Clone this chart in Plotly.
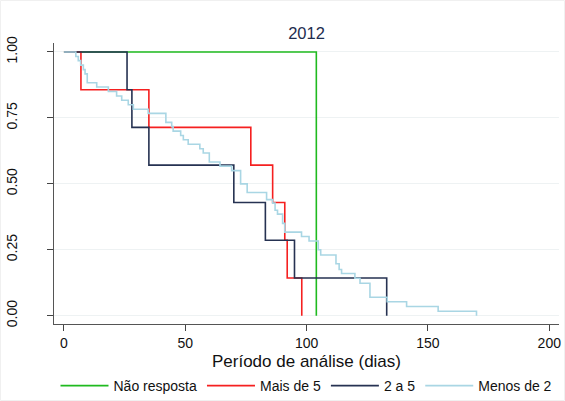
import plotly.graph_objects as go

# Kaplan-Meier step data (time in days, survival after each drop)
nao_t = [0, 104]
nao_s = [1.0, 0.0]

mais5_t = [0, 7, 35, 77, 86, 91, 92, 98]
mais5_s = [1.0, 0.857, 0.714, 0.571, 0.429, 0.286, 0.143, 0.0]

dois5_t = [0, 26, 28, 35, 70, 83, 95, 133]
dois5_s = [1.0, 0.857, 0.714, 0.571, 0.429, 0.286, 0.143, 0.0]

menos2_t = [0, 4.9, 5.9, 6.9, 8.0, 8.7, 9.6, 13.5, 18.3, 21.7, 23.8, 26.5, 28.6,
            34.7, 42.0, 44.4, 45.0, 48.1, 49.2, 51.2, 56.0, 57.4, 59.9, 64.3, 69.1,
            72.8, 75.5, 83.5, 86.0, 87.0, 88.0, 90.1, 91.0, 97.9, 101.0, 104.8, 105.8,
            112.1, 113.4, 114.4, 119.9, 122.0, 126.1, 133.2, 141.2, 154.2, 170.0]
menos2_s = [1.0, 0.983, 0.967, 0.950, 0.933, 0.917, 0.883, 0.867, 0.850, 0.833, 0.817, 0.800, 0.783,
            0.767, 0.733, 0.717, 0.700, 0.683, 0.667, 0.650, 0.633, 0.617, 0.583, 0.567, 0.550,
            0.500, 0.467, 0.440, 0.427, 0.400, 0.385, 0.350, 0.317, 0.300, 0.283, 0.250, 0.230,
            0.197, 0.175, 0.160, 0.142, 0.123, 0.070, 0.053, 0.035, 0.017, 0.0]

series = [
    ("Não resposta", nao_t, nao_s, "#1fba1f"),
    ("Mais de 5", mais5_t, mais5_s, "#f52020"),
    ("2 a 5", dois5_t, dois5_s, "#263252"),
    ("Menos de 2", menos2_t, menos2_s, "#a9d6e4"),
]

x_ticks = [0, 50, 100, 150, 200]
y_ticks = [0, 0.25, 0.5, 0.75, 1.0]

fig = go.Figure()
for name, t, s, c in series:
    fig.add_trace(go.Scatter(x=t, y=s, mode="lines", name=name,
                             line=dict(color=c, width=1.6, shape="hv")))

font = "Liberation Sans, Arial, sans-serif"
fig.update_layout(
    width=565, height=401,
    margin=dict(l=54, r=6, t=43, b=77, autoexpand=False),
    paper_bgcolor="white", plot_bgcolor="white",
    font=dict(family=font, size=14, color="#111"),
    title=dict(text="2012", x=0.5, xref="paper", y=1 - 33 / 401, yanchor="middle",
               font=dict(size=16.5, color="#1e2d4f", family=font)),
    showlegend=True,
    legend=dict(orientation="h", x=0.5, xanchor="center", y=-(386 - 324) / 281, yanchor="middle",
                font=dict(size=14, color="#111", family=font), itemwidth=48,
                tracegroupgap=0, bgcolor="rgba(0,0,0,0)"),
    shapes=[dict(type="rect", xref="paper", yref="paper",
                 x0=-53.5 / 505, x1=1 + 5.5 / 505, y0=-76.5 / 281, y1=1 + 42.5 / 281,
                 line=dict(color="#f0f0f0", width=1), layer="below")],
)
fig.update_xaxes(range=[-4.1, 204], tickvals=x_ticks, ticks="outside", ticklen=6,
                 tickcolor="#444", showline=True, linecolor="#555", linewidth=1.3,
                 showgrid=False, zeroline=False, tickfont=dict(size=14), ticklabelstandoff=0,
                 title=dict(text="Período de análise (dias)", font=dict(size=17), standoff=5))
fig.update_yaxes(range=[-0.0315, 1.034], tickvals=y_ticks, tickformat=".2f", ticks="outside",
                 ticklen=6, tickcolor="#444", showline=True, linecolor="#555", linewidth=1.3,
                 showgrid=True, gridcolor="#eef2f3", gridwidth=1.2, zeroline=False,
                 tickangle=-90, tickfont=dict(size=14), ticklabelstandoff=24)

fig.write_html("out.html")
